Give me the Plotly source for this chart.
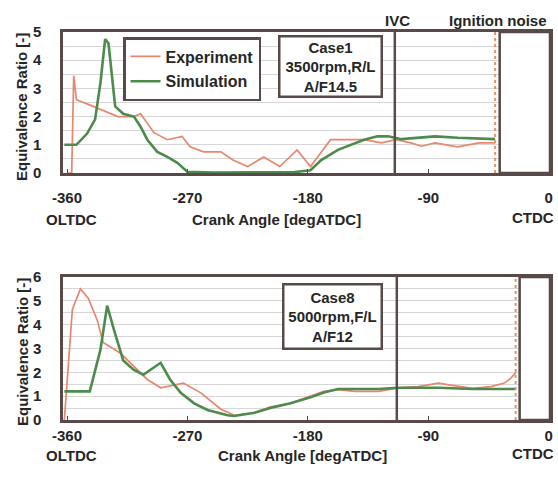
import plotly.graph_objects as go

# ---------------- data ----------------
exp1_ang = [-360, -356.5, -355, -353, -345, -335, -322, -310, -305, -295, -285, -274, -268, -258, -245,
            -236, -225, -213, -201, -188, -178, -163, -153, -138, -125, -114, -103, -95, -85, -68, -52, -40]
exp1_val = [0, 0, 3.45, 2.6, 2.45, 2.25, 2.0, 2.0, 2.1, 1.43, 1.18, 1.3, 0.93, 0.75, 0.75,
            0.46, 0.23, 0.57, 0.23, 0.82, 0.23, 1.18, 1.18, 1.18, 1.07, 1.18, 1.07, 0.95, 1.07, 0.93, 1.07, 1.07]

sim1_ang = [-362, -353, -345, -339, -335, -331.5, -329, -326, -324, -318, -310, -305, -300, -292.5, -285,
            -277.5, -270, -250, -220, -190, -178, -170, -157.5, -145, -138, -128, -120, -110, -100, -85, -68, -48, -40]
sim1_val = [1.0, 1.0, 1.4, 1.9, 3.2, 4.75, 4.6, 3.2, 2.36, 2.1, 2.0, 1.64, 1.18, 0.75, 0.57,
            0.36, 0.04, 0.02, 0.02, 0.03, 0.1, 0.46, 0.82, 1.05, 1.18, 1.3, 1.3, 1.2, 1.25, 1.3, 1.25, 1.2, 1.2]

exp8_ang = [-362, -356, -350, -344, -337.5, -333, -320, -310, -300, -290, -280, -273, -260, -250, -245,
            -235, -220, -208, -193, -178, -168, -157.5, -145, -127, -112.5, -97.5, -82.5, -72, -57, -43, -33, -28, -24.5]
exp8_val = [0, 4.64, 5.5, 5.1, 4.2, 3.25, 2.8, 2.25, 1.7, 1.35, 1.48, 1.55, 1.14, 0.7, 0.45,
            0.2, 0.3, 0.55, 0.7, 1.0, 1.2, 1.27, 1.2, 1.2, 1.35, 1.4, 1.55, 1.45, 1.33, 1.4, 1.55, 1.77, 2.0]

sim8_ang = [-362, -343, -335, -330, -325, -318, -310, -303, -290, -283, -275, -265, -255, -240, -235,
            -220, -208, -193, -178, -168, -157.5, -145, -127, -112.5, -97.5, -82, -57, -33, -24.5]
sim8_val = [1.2, 1.2, 2.95, 4.8, 3.8, 2.5, 2.1, 1.9, 2.4, 1.7, 1.14, 0.7, 0.42, 0.2, 0.17,
            0.3, 0.5, 0.7, 0.95, 1.15, 1.3, 1.3, 1.3, 1.35, 1.35, 1.35, 1.3, 1.3, 1.3]

x_tickvals = [-360, -270, -180, -90, 0]
x_ticktext = ["-360", "-270", "-180", "-90", "0"]
left_sub, right_sub = "OLTDC", "CTDC"

ivc_case1, ivc_case8 = -115, -113.5
ign_case1, ign_case8 = -36.6, -21.7
noise_case1, noise_case8 = -40, -24.7

case1_text = "Case1<br>3500rpm,R/L<br>A/F14.5"
case8_text = "Case8<br>5000rpm,F/L<br>A/F12"

# ---------------- style ----------------
W, H = 558, 483
EXP_C = "#e8866e"
SIM_C = "#4d8b4d"
FRAME = "#574a48"
TXT = "#262626"
FONT = "Liberation Sans"


def px_x(p):
    return p / W


def px_y(p):
    return 1 - p / H


fig = go.Figure()
fig.add_trace(go.Scatter(x=exp1_ang, y=exp1_val, mode="lines", name="<b>Experiment</b>", legendgroup="e",
                         line=dict(color=EXP_C, width=1.7), xaxis="x", yaxis="y"))
fig.add_trace(go.Scatter(x=sim1_ang, y=sim1_val, mode="lines", name="<b>Simulation</b>", legendgroup="s",
                         line=dict(color=SIM_C, width=2.6), xaxis="x", yaxis="y"))
fig.add_trace(go.Scatter(x=exp8_ang, y=exp8_val, mode="lines", showlegend=False,
                         line=dict(color=EXP_C, width=1.7), xaxis="x2", yaxis="y2"))
fig.add_trace(go.Scatter(x=sim8_ang, y=sim8_val, mode="lines", showlegend=False,
                         line=dict(color=SIM_C, width=2.6), xaxis="x2", yaxis="y2"))

xdom = [px_x(63), px_x(550)]
tickfont = dict(family=FONT, size=15, color=TXT, weight="bold")


def xaxis_cfg(anchor, standoff):
    return dict(domain=xdom, range=[-363, 1], anchor=anchor, tickvals=x_tickvals, ticktext=x_ticktext,
                showgrid=False, zeroline=False, showline=True, linecolor=FRAME, linewidth=2.5,
                mirror=True, ticks="inside", ticklen=4, tickcolor=FRAME, automargin=False,
                tickfont=tickfont, ticklabelstandoff=standoff)


def yaxis_cfg(anchor, top, dom):
    return dict(domain=dom, range=[0, top], anchor=anchor, dtick=1, showgrid=True, gridcolor="#d6d6d6",
                gridwidth=1, minor=dict(dtick=0.5, showgrid=True, gridcolor="#d6d6d6", gridwidth=1),
                zeroline=False, showline=True, linecolor=FRAME, linewidth=2.5, mirror=True,
                ticks="", tickfont=tickfont, ticklabelstandoff=16, automargin=False)


fig.update_layout(
    width=W, height=H, margin=dict(l=0, r=0, t=0, b=0),
    paper_bgcolor="white", plot_bgcolor="white",
    xaxis=xaxis_cfg("y", 9), yaxis=yaxis_cfg("x", 5, [px_y(173), px_y(32)]),
    xaxis2=xaxis_cfg("y2", 0), yaxis2=yaxis_cfg("x2", 6, [px_y(420), px_y(277)]),
    showlegend=True,
    legend=dict(x=px_x(123), y=px_y(37), xanchor="left", yanchor="top", bordercolor=FRAME, borderwidth=2.5,
                bgcolor="white", font=dict(family=FONT, size=16, color=TXT),
                tracegroupgap=1, itemwidth=30),
)

shapes = []
for xr, yr, ivc, ign, noise, top in [("x", "y", ivc_case1, ign_case1, noise_case1, 5),
                                      ("x2", "y2", ivc_case8, ign_case8, noise_case8, 6)]:
    shapes.append(dict(type="rect", xref=xr, yref=yr, x0=ign, x1=1, y0=0, y1=top,
                       fillcolor="white", line=dict(color=FRAME, width=2.5), layer="above"))
    shapes.append(dict(type="line", xref=xr, yref=yr, x0=noise, x1=noise, y0=0, y1=top,
                       line=dict(color="#e8906a", width=2, dash="dot"), layer="above"))
    shapes.append(dict(type="line", xref=xr, yref=yr, x0=ivc, x1=ivc, y0=0, y1=top,
                       line=dict(color=FRAME, width=2.5), layer="above"))
fig.update_layout(shapes=shapes)

tf = dict(family=FONT, size=15, color=TXT, weight="bold")


def note(text, x, y, **kw):
    d = dict(text=text, x=px_x(x), y=px_y(y), xref="paper", yref="paper", showarrow=False,
             font=tf, xanchor="center", yanchor="middle")
    d.update(kw)
    return d


ann = [
    note(case1_text, 330.5, 66.5, bordercolor=FRAME, borderwidth=2.5, borderpad=0, bgcolor="white",
         width=100, height=58),
    note(case8_text, 332.5, 316.5, bordercolor=FRAME, borderwidth=2.5, borderpad=0, bgcolor="white",
         width=96, height=62),
    note("IVC", 397, 21),
    note("Ignition noise", 498, 21),
]
for cy, ly, tx in [(107, 219, 276), (352, 455, 302)]:
    ann.append(note("Equivalence Ratio [-]", 22, cy, textangle=-90))
    ann.append(note("Crank Angle [degATDC]", tx, ly))
    ann.append(note(left_sub, 71, ly))
    ann.append(note(right_sub, 556, ly - 2, xanchor="right"))
fig.update_layout(annotations=ann)

fig.write_html("out.html", config={"displayModeBar": False},
               post_script="document.body.style.margin='0';")
